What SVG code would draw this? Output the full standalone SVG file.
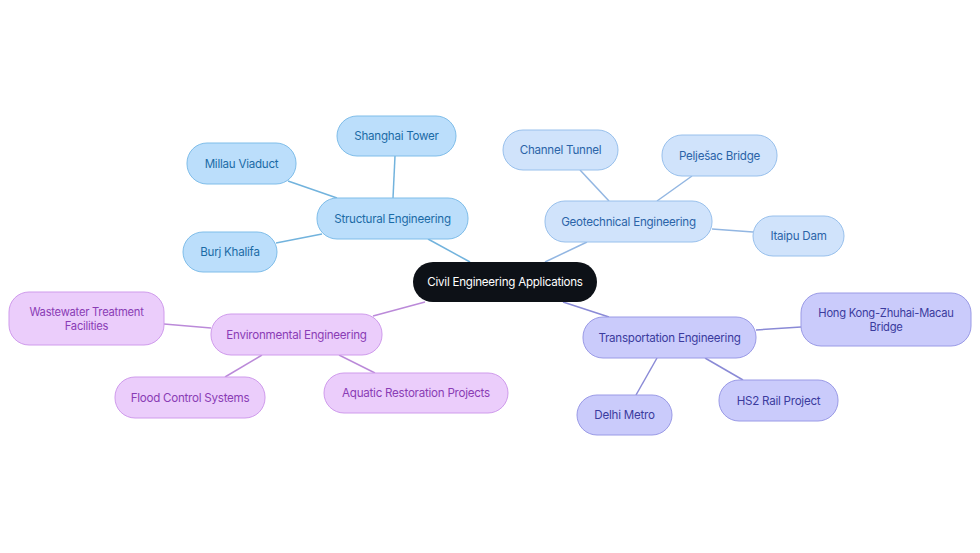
<svg xmlns="http://www.w3.org/2000/svg" width="980" height="553" viewBox="0 0 980 553">
<style>
text{font-family:Inter,"Open Sans","Liberation Sans",sans-serif;font-size:11.6px;text-anchor:middle;dominant-baseline:central;letter-spacing:-0.25px}
.st rect{fill:#bbdefb;stroke:#7fbde9;stroke-width:1}
.st text{fill:#1b6ba6}
.ge rect{fill:#d0e3fb;stroke:#98c0ec;stroke-width:1}
.ge text{fill:#2b64a8}
.en rect{fill:#ebcdfb;stroke:#cf9bec;stroke-width:1}
.en text{fill:#8a3cb5}
.tr rect{fill:#cacbfb;stroke:#9a9ae6;stroke-width:1}
.tr text{fill:#3b3b9e}
.root rect{fill:#0d1117}
.root text{fill:#ffffff}
.two{font-size:11.2px}
.c line{stroke-width:1.5;fill:none}
.cs{stroke:#72b3dd}
.cg{stroke:#92b6e2}
.ce{stroke:#bb8ad9}
.ct{stroke:#8a8ad6}
</style>
<rect width="980" height="553" fill="#ffffff"/>
<g id="connectors" class="c">
<line class="cs" x1="428" y1="239" x2="470" y2="262"/>
<line class="cs" x1="288" y1="181" x2="337" y2="198"/>
<line class="cs" x1="395" y1="156" x2="393" y2="198"/>
<line class="cs" x1="276" y1="243" x2="322" y2="234"/>
<line class="cg" x1="587" y1="242" x2="545" y2="262"/>
<line class="cg" x1="580" y1="170" x2="609" y2="201"/>
<line class="cg" x1="692" y1="176" x2="657" y2="201"/>
<line class="cg" x1="712" y1="229" x2="753" y2="232"/>
<line class="ce" x1="373" y1="316" x2="425" y2="302"/>
<line class="ce" x1="164" y1="324" x2="211" y2="328"/>
<line class="ce" x1="225" y1="377" x2="262" y2="355"/>
<line class="ce" x1="339" y1="355" x2="375" y2="373"/>
<line class="ct" x1="563" y1="302" x2="609" y2="317"/>
<line class="ct" x1="756" y1="330" x2="801" y2="327"/>
<line class="ct" x1="657" y1="358" x2="636" y2="395"/>
<line class="ct" x1="705" y1="358" x2="743" y2="380"/>
</g>
<g id="root" class="root"><rect x="413" y="262" width="184" height="40" rx="20"/><text x="505" y="282">Civil Engineering Applications</text></g>
<g id="structural" class="st"><rect x="317" y="198" width="151" height="41" rx="20"/><text x="392.5" y="218.5">Structural Engineering</text></g>
<g id="shanghai" class="st"><rect x="337" y="116" width="119" height="40" rx="20"/><text x="396.5" y="136">Shanghai Tower</text></g>
<g id="millau" class="st"><rect x="187" y="143" width="109" height="41" rx="20"/><text x="241.5" y="163.5">Millau Viaduct</text></g>
<g id="burj" class="st"><rect x="183" y="232" width="94" height="40" rx="20"/><text x="230" y="252">Burj Khalifa</text></g>
<g id="geotechnical" class="ge"><rect x="545" y="201" width="167" height="41" rx="20"/><text x="628.5" y="221.5">Geotechnical Engineering</text></g>
<g id="channel" class="ge"><rect x="503" y="130" width="115" height="40" rx="20"/><text x="560.5" y="150">Channel Tunnel</text></g>
<g id="peljesac" class="ge"><rect x="662" y="135" width="115" height="41" rx="20"/><text x="719.5" y="155.5">Pelješac Bridge</text></g>
<g id="itaipu" class="ge"><rect x="753" y="216" width="91" height="40" rx="20"/><text x="798.5" y="236">Itaipu Dam</text></g>
<g id="environmental" class="en"><rect x="211" y="314" width="171" height="41" rx="20"/><text x="296.5" y="334.5">Environmental Engineering</text></g>
<g id="wastewater" class="en"><rect x="9" y="292" width="155" height="53" rx="20"/><text class="two" x="86.5" y="311.5">Wastewater Treatment</text><text class="two" x="86.5" y="325.5">Facilities</text></g>
<g id="flood" class="en"><rect x="115" y="377" width="150" height="41" rx="20"/><text x="190" y="397.5">Flood Control Systems</text></g>
<g id="aquatic" class="en"><rect x="324" y="373" width="184" height="40" rx="20"/><text x="416" y="393">Aquatic Restoration Projects</text></g>
<g id="transportation" class="tr"><rect x="583" y="317" width="173" height="41" rx="20"/><text x="669.5" y="337.5">Transportation Engineering</text></g>
<g id="hongkong" class="tr"><rect x="801" y="293" width="170" height="53" rx="20"/><text class="two" x="886" y="312.5">Hong Kong-Zhuhai-Macau</text><text class="two" x="886" y="326.5">Bridge</text></g>
<g id="delhi" class="tr"><rect x="577" y="395" width="95" height="40" rx="20"/><text x="624.5" y="415">Delhi Metro</text></g>
<g id="hs2" class="tr"><rect x="719" y="380" width="119" height="41" rx="20"/><text x="778.5" y="400.5">HS2 Rail Project</text></g>
</svg>
